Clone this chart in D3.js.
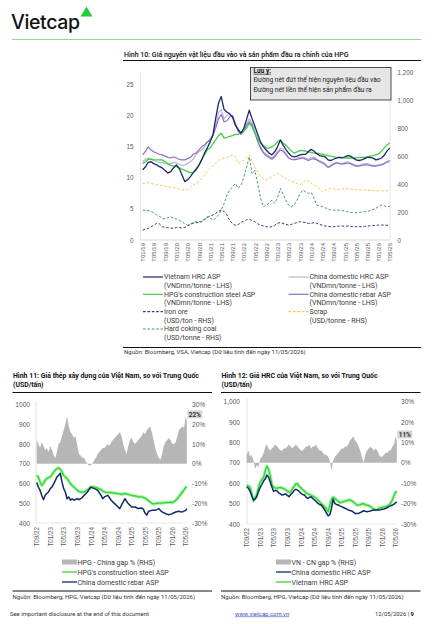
<!DOCTYPE html>
<html>
<head>
<meta charset="utf-8">
<script src="https://cdn.jsdelivr.net/npm/d3@7/dist/d3.min.js"></script>
<style>
  body { margin: 0; background: #fff; }
  svg { display: block; font-family: Roboto, 'Open Sans', sans-serif; }
  .tick text { fill: #595959; }
</style>
</head>
<body>
<svg id="page" width="442" height="624"></svg>
<script>
// Hình 10 - monthly, T01/19 .. T05/26
const vnHrc = [
  11.3, 11.8, 12.5, 12.6, 12.3, 12.1, 11.8, 11.6, 11.2, 10.8,
  11.0, 11.6, 12.1, 11.5, 10.5, 9.4, 9.7, 10.2, 10.8, 11.3,
  12.0, 12.9, 14.0, 14.8, 15.8, 17.0, 19.5, 22.0, 23.1, 21.0,
  20.6, 20.3, 19.8, 18.5, 17.8, 17.2, 18.0, 19.5, 20.9, 19.5,
  18.3, 17.0, 15.8, 15.0, 14.5, 14.0, 13.7, 14.2, 15.0, 16.1,
  15.3, 14.6, 14.0, 13.5, 13.4, 13.5, 13.7, 13.8, 13.8, 14.2,
  14.6, 14.3, 13.9, 13.6, 13.5, 13.4, 12.9, 12.8, 13.0, 13.2,
  13.3, 13.2, 13.4, 13.6, 13.5, 13.2, 12.9, 12.8, 12.9, 13.1,
  13.3, 13.3, 13.2, 12.9, 13.0, 13.2, 13.6, 14.3, 14.8
]
const cnHrc = [
  12.6, 13.0, 13.2, 13.0, 12.8, 12.6, 12.5, 12.5, 12.3, 12.2,
  12.3, 12.5, 12.4, 12.2, 12.0, 12.1, 12.3, 12.6, 13.0, 13.8,
  14.2, 14.5, 15.0, 15.8, 16.3, 17.0, 18.5, 20.5, 21.0, 19.5,
  20.0, 20.2, 19.8, 18.5, 17.5, 17.2, 17.8, 18.8, 19.5, 18.8,
  17.5, 16.0, 15.0, 14.2, 13.8, 13.5, 13.2, 13.6, 14.3, 14.8,
  14.6, 14.0, 13.2, 13.0, 13.0, 13.2, 13.3, 13.4, 13.2, 13.0,
  13.3, 13.3, 13.0, 12.8, 12.6, 12.3, 11.8, 12.0, 12.3, 12.5,
  12.4, 12.3, 12.5, 12.6, 12.4, 12.2, 12.0, 12.0, 12.2, 12.3,
  12.3, 12.2, 12.0, 12.0, 12.1, 12.2, 12.3, 12.5, 12.6
]
const hpgSteel = [
  12.3, 12.6, 13.0, 13.0, 12.9, 12.9, 12.9, 12.9, 12.6, 12.3,
  12.0, 11.9, 11.8, 11.6, 11.4, 11.2, 11.0, 10.8, 10.9, 11.5,
  12.1, 13.0, 13.7, 14.5, 14.8, 15.5, 16.1, 16.8, 17.2, 16.4,
  16.5, 16.7, 16.8, 17.0, 17.0, 17.2, 17.6, 18.0, 18.8, 18.2,
  17.2, 16.3, 15.6, 15.2, 14.8, 14.8, 15.0, 15.3, 15.8, 16.1,
  15.6, 15.3, 14.8, 14.3, 14.0, 14.2, 14.4, 14.4, 14.3, 14.2,
  14.1, 14.0, 14.0, 13.9, 13.8, 13.7, 13.6, 13.5, 13.4, 13.3,
  13.3, 13.3, 13.2, 13.2, 13.2, 13.2, 13.2, 13.3, 13.3, 13.3,
  13.4, 13.5, 13.6, 13.7, 13.9, 14.3, 14.8, 15.3, 15.6
]
const cnRebar = [
  13.7, 14.3, 15.0, 14.5, 14.2, 14.0, 13.8, 13.7, 13.5, 13.3,
  13.2, 13.4, 13.2, 13.0, 12.9, 12.9, 13.1, 13.3, 13.8, 14.0,
  14.5, 15.0, 15.3, 15.8, 16.0, 16.8, 18.0, 19.5, 20.2, 19.0,
  19.2, 19.8, 20.0, 18.8, 17.5, 17.0, 17.5, 18.5, 19.0, 18.5,
  17.2, 15.8, 14.8, 14.0, 13.6, 13.3, 13.0, 13.4, 14.0, 14.5,
  14.3, 13.8, 13.2, 13.0, 12.9, 13.0, 13.1, 13.2, 13.0, 12.8,
  13.0, 13.1, 12.9, 12.6, 12.4, 12.1, 11.7, 11.9, 12.2, 12.4,
  12.3, 12.2, 12.3, 12.4, 12.3, 12.1, 11.9, 11.9, 12.0, 12.1,
  12.1, 12.0, 11.9, 11.9, 12.0, 12.1, 12.3, 12.6, 12.8
]
const ironOre = [
  71, 78, 83, 95, 105, 119, 115, 95, 90, 88,
  85, 83, 90, 88, 87, 90, 100, 112, 119, 124,
  127, 131, 145, 160, 172, 179, 190, 205, 214, 205,
  180, 140, 115, 105, 110, 125, 135, 145, 148, 140,
  131, 115, 107, 100, 95, 92, 95, 105, 120, 124,
  119, 112, 107, 112, 119, 125, 131, 128, 125, 119,
  118, 125, 119, 112, 105, 100, 97, 95, 95, 97,
  100, 100, 98, 100, 98, 97, 95, 95, 95, 97,
  100, 102, 104, 105, 107, 107, 107, 105, 106
]
const scrap = [
  405, 408, 410, 405, 400, 395, 393, 390, 385, 381,
  378, 375, 370, 365, 360, 357, 362, 375, 393, 405,
  420, 440, 465, 490, 512, 530, 550, 571, 580, 583,
  590, 600, 607, 600, 548, 560, 571, 590, 607, 560,
  524, 480, 452, 440, 429, 440, 452, 465, 476, 465,
  452, 440, 429, 417, 417, 405, 393, 410, 429, 420,
  405, 395, 381, 365, 345, 355, 365, 369, 365, 362,
  362, 365, 369, 367, 365, 362, 360, 357, 357, 357,
  357, 355, 355, 352, 352, 352, 352, 352, 352
]
const cokingCoal = [
  214, 212, 210, 205, 195, 180, 170, 155, 150, 160,
  167, 155, 150, 140, 131, 115, 107, 115, 125, 131,
  131, 135, 150, 167, 155, 143, 155, 180, 214, 260,
  320, 357, 380, 405, 371, 390, 450, 524, 595, 476,
  500, 400, 300, 238, 250, 262, 286, 262, 300, 369,
  330, 286, 250, 238, 250, 286, 330, 357, 345, 333,
  340, 300, 250, 245, 238, 230, 225, 214, 214, 212,
  214, 210, 208, 202, 198, 195, 195, 198, 200, 202,
  205, 210, 218, 226, 240, 250, 245, 238, 240
]
const months10 = d3.range(vnHrc.length).map(i => new Date(2019, i, 1))

// Hình 11 - twice a month from T09/22, last point 11/05/2026
const gapHpg = [
  12, 10, 8, 11, 9, 7, 8, 6, 9, 7,
  4, 3, 6, 10, 11, 14, 17, 20, 24, 19,
  16, 15, 13, 14, 9, 5, 4, 3, 3, 1,
  0, -1, -0.5, 0, 2, 3, 5, 6, 7, 8,
  8, 9, 10, 9, 11, 12, 13, 14, 15, 16,
  14, 10, 7, 5, 9, 12, 13, 11, 10, 11,
  12, 13, 14, 16, 15, 17, 18, 19, 16, 12,
  8, 5, 3, 2, 5, 9, 11, 12, 13, 12,
  10, 10, 11, 14, 17, 18, 19, 18, 24, 22
]
const hpgSteelUsd = [
  641, 633, 608, 591, 600, 616, 625, 630, 633, 645,
  658, 668, 675, 679, 672, 660, 641, 632, 625, 612,
  600, 590, 582, 574, 566, 560, 557, 556, 557, 563,
  569, 576, 582, 583, 582, 580, 577, 573, 569, 562,
  557, 555, 554, 554, 554, 552, 552, 550, 549, 547,
  545, 547, 549, 547, 545, 542, 540, 538, 537, 535,
  532, 532, 532, 530, 526, 520, 513, 506, 500, 497,
  498, 500, 501, 501, 501, 502, 503, 503, 503, 506,
  503, 508, 515, 524, 533, 545, 557, 568, 580, 584
]
const cnRebarUsd = [
  605, 582, 566, 540, 518, 540, 549, 557, 574, 582,
  599, 616, 633, 641, 652, 608, 574, 557, 523, 532,
  515, 523, 515, 520, 523, 518, 523, 530, 540, 548,
  557, 570, 582, 578, 574, 570, 566, 553, 540, 523,
  532, 536, 540, 528, 515, 506, 498, 490, 481, 473,
  490, 506, 523, 510, 498, 490, 481, 481, 481, 477,
  473, 475, 476, 470, 450, 440, 459, 462, 464, 464,
  464, 468, 473, 464, 456, 452, 447, 444, 442, 445,
  447, 452, 456, 458, 459, 457, 456, 460, 464, 473
]

// Hình 12
const gapHrc = [
  4, 6, 3, 4, 1, -3, -1, -2, 2, 3,
  5, 8, 9, 7, 6, 7, 8, 9, 8, 7,
  6, 6, 7, 7, 8, 9, 8, 7, 8, 9,
  8, 7, 6, 6, 7, 8, 8, 9, 7, 8,
  8, 9, 7, 6, 6, 5, 4, 4, 3, 1,
  -4, 1, 3, 4, 5, 6, 7, 7, 8, 8,
  9, 11, 12, 13, 11, 10, 8, 6, 3, 0,
  4, 6, 7, 8, 7, 6, 7, 6, 4, 3,
  3, 4, 5, 5, 6, 6, 8, 9, 13, 11
]
const vnHrcUsd = [
  591, 587, 580, 548, 512, 530, 545, 580, 605, 618,
  630, 665, 684, 668, 635, 592, 580, 577, 575, 578,
  579, 576, 573, 568, 562, 556, 558, 572, 585, 597,
  598, 585, 578, 568, 562, 552, 548, 545, 541, 537,
  532, 526, 518, 509, 500, 493, 485, 475, 460, 490,
  520, 532, 526, 518, 511, 505, 507, 510, 512, 515,
  517, 518, 514, 508, 500, 493, 493, 495, 499, 500,
  495, 492, 490, 486, 480, 474, 470, 472, 477, 480,
  482, 484, 485, 489, 493, 502, 518, 540, 558, 556
]
const cnHrcUsd = [
  583, 575, 562, 540, 518, 522, 535, 560, 580, 595,
  612, 622, 640, 630, 605, 580, 560, 565, 562, 552,
  548, 542, 545, 548, 540, 534, 545, 552, 565, 570,
  567, 560, 550, 545, 542, 532, 526, 530, 534, 525,
  518, 510, 501, 496, 493, 482, 469, 455, 440, 445,
  475, 522, 500, 496, 493, 489, 485, 481, 477, 473,
  469, 466, 464, 458, 452, 452, 452, 456, 460, 465,
  463, 460, 462, 464, 467, 469, 469, 469, 469, 470,
  472, 474, 477, 481, 485, 489, 493, 498, 505, 509
]
const days = d3.range(89).map(i => new Date(2022, 8 + Math.floor(i / 2), i % 2 ? 16 : 1))
days.push(new Date(2026, 4, 11))

const usdTicks = [400, 500, 600, 700, 800, 900, 1000]
const pctTicks = [-30, -20, -10, 0, 10, 20, 30]

const svg = d3.select('#page')
const tLabel = d => 'T' + d3.timeFormat('%m/%y')(d)

function hline (x1, x2, y, color, w) {
  svg.append('line')
    .attr('x1', x1).attr('x2', x2).attr('y1', y).attr('y2', y)
    .attr('stroke', color || '#111')
    .attr('stroke-width', w || 1)
}
function vline (x, y1, y2) {
  svg.append('line')
    .attr('x1', x).attr('x2', x).attr('y1', y1).attr('y2', y2)
    .attr('stroke', '#dcdcdc')
    .attr('stroke-width', 0.8)
}
function label (x, y, str, size, opts) {
  opts = opts || {}
  return svg.append('text')
    .attr('x', x).attr('y', y)
    .attr('font-size', size)
    .attr('font-weight', opts.weight || 400)
    .attr('fill', opts.fill || '#222')
    .attr('text-anchor', opts.anchor || 'start')
    .text(str)
}

// header
svg.append('text')
  .attr('x', 11).attr('y', 29)
  .attr('font-family', 'Inter, sans-serif')
  .attr('font-size', 19.5)
  .attr('font-weight', 500)
  .attr('fill', '#111')
  .attr('textLength', 69)
  .text('Vietcap')
svg.append('path').attr('d', 'M80.5,16.5L86.5,6.5L92.5,16.5Z').attr('fill', '#22d03a')
hline(12, 421, 39.5, '#86d98f', 1.2)

// ---------- Hình 10 ----------
label(124, 56.5, 'Hình 10: Giá nguyên vật liệu đầu vào và sản phẩm đầu ra chính của HPG', 7, { weight: 500, fill: '#111' })
hline(123, 421, 60.5)

const x10 = d3.scaleTime().domain([months10[0], months10[months10.length - 1]]).range([142.7, 389.7])
const yL10 = d3.scaleLinear().domain([0, 27]).range([240, 72.3])
const yR10 = d3.scaleLinear().domain([0, 1200]).range([240, 72.3])

vline(140.5, 72, 240)
vline(390, 72, 240)
svg.append('line').attr('x1', 140.5).attr('x2', 390).attr('y1', 240).attr('y2', 240)
  .attr('stroke', '#d0d0d0').attr('stroke-width', 0.8)

const series10 = [
  { values: ironOre, scale: yR10, color: '#2c3f7c', dash: '2.6,1.8', width: 1 },
  { values: scrap, scale: yR10, color: '#f3c94f', dash: '2.6,1.8', width: 1 },
  { values: cokingCoal, scale: yR10, color: '#3f9c74', dash: '2.6,1.8', width: 1 },
  { values: cnHrc, scale: yL10, color: '#b4b7de', width: 1.2 },
  { values: cnRebar, scale: yL10, color: '#8f6dbb', width: 1.2 },
  { values: hpgSteel, scale: yL10, color: '#3fd13f', width: 1.3 },
  { values: vnHrc, scale: yL10, color: '#1d2668', width: 1.3 }
]
series10.forEach(s => {
  svg.append('path')
    .datum(s.values)
    .attr('d', d3.line().x((d, i) => x10(months10[i])).y(d => s.scale(d)))
    .attr('fill', 'none')
    .attr('stroke', s.color)
    .attr('stroke-width', s.width)
    .attr('stroke-dasharray', s.dash || null)
    .attr('stroke-linejoin', 'round')
})

svg.append('g')
  .attr('transform', 'translate(140,0)')
  .call(d3.axisLeft(yL10).tickValues([0, 5, 10, 15, 20, 25]).tickSize(0).tickPadding(6.5))
  .call(g => g.select('.domain').remove())
  .selectAll('text').attr('font-size', 6.3)
svg.append('g')
  .attr('transform', 'translate(390,0)')
  .call(d3.axisRight(yR10).tickValues(d3.range(0, 1201, 200)).tickFormat(d3.format(',')).tickSize(0).tickPadding(7.5))
  .call(g => g.select('.domain').remove())
  .selectAll('text').attr('font-size', 6.3)
svg.append('g')
  .attr('transform', 'translate(0,240)')
  .call(d3.axisBottom(x10).ticks(d3.timeMonth.every(4)).tickFormat(tLabel).tickSize(0))
  .call(g => g.select('.domain').remove())
  .selectAll('text')
  .attr('font-size', 6)
  .attr('transform', 'rotate(-90)')
  .attr('text-anchor', 'end')
  .attr('x', -3).attr('y', 0).attr('dy', '0.35em')

// note box
svg.append('rect')
  .attr('x', 250.5).attr('y', 67.5).attr('width', 140.5).attr('height', 32.5)
  .attr('fill', '#e6e6e6').attr('stroke', '#222').attr('stroke-width', 0.8)
label(253.5, 72.8, 'Lưu ý:', 6.4, { weight: 700, fill: '#111' }).attr('text-decoration', 'underline')
label(253.5, 82.3, 'Đường nét đứt thể hiện nguyên liệu đầu vào', 6.6, { fill: '#222' })
label(253.5, 92.3, 'Đường nét liền thể hiện sản phẩm đầu ra', 6.6, { fill: '#222' })

// legend
const legend10 = [
  { col: 0, row: 0, s: series10[6], name: 'Vietnam HRC ASP', unit: '(VNDmn/tonne - LHS)' },
  { col: 1, row: 0, s: series10[3], name: 'China domestic HRC ASP', unit: '(VNDmn/tonne - LHS)' },
  { col: 0, row: 1, s: series10[5], name: "HPG's construction steel ASP", unit: '(VNDmn/tonne - LHS)' },
  { col: 1, row: 1, s: series10[4], name: 'China domestic rebar ASP', unit: '(VNDmn/tonne - LHS)' },
  { col: 0, row: 2, s: series10[0], name: 'Iron ore', unit: '(USD/ton - RHS)' },
  { col: 1, row: 2, s: series10[1], name: 'Scrap', unit: '(USD/tonne - RHS)' },
  { col: 0, row: 3, s: series10[2], name: 'Hard coking coal', unit: '(USD/tonne - RHS)' }
]
const legX = [143, 288.5]
const legY = [277, 294.3, 311.6, 329]
legend10.forEach(d => {
  const lx = legX[d.col]
  const ly = legY[d.row]
  svg.append('line')
    .attr('x1', lx).attr('x2', lx + 20).attr('y1', ly).attr('y2', ly)
    .attr('stroke', d.s.color).attr('stroke-width', 1.2)
    .attr('stroke-dasharray', d.s.dash || null)
  label(lx + 21, ly + 2.4, d.name, 7, { fill: '#3a3a3a' })
  label(lx + 21, ly + 11, d.unit, 7, { fill: '#3a3a3a' })
})

hline(123, 421, 347.5)
label(124, 354.2, 'Nguồn: Bloomberg, VSA, Vietcap (Dữ liệu tính đến ngày 11/05/2026)', 6, { fill: '#333' })

// ---------- Hình 11 & 12 ----------
function gapChart (c) {
  const x = d3.scaleTime().domain([days[0], days[88]]).range([c.x0, c.x0 + 149])
  const yL = d3.scaleLinear().domain([400, 1000]).range([c.yBottom, c.yTop])
  const yR = d3.scaleLinear().domain([-30, 30]).range([c.yBottom, c.yTop])

  label(c.titleX, 377.8, c.title, 6.9, { weight: 700, fill: '#111' })
  label(c.titleX, 387.3, '(USD/tấn)', 6.9, { weight: 700, fill: '#111' })
  hline(c.titleX - 0.5, c.titleX + 199, 392.5)

  vline(c.frameX, c.yTop - 3, c.yBottom)
  svg.append('line').attr('x1', c.frameX).attr('x2', x(days[days.length - 1])).attr('y1', c.yBottom).attr('y2', c.yBottom)
    .attr('stroke', '#e2e2e2').attr('stroke-width', 0.8)

  svg.append('path')
    .datum(c.gap)
    .attr('d', d3.area().x((d, i) => x(days[i])).y0(yR(0)).y1(d => yR(d)))
    .attr('fill', '#b6b6b6')

  const line = d3.line().x((d, i) => x(days[i])).y(d => yL(d))
  svg.append('path').datum(c.green).attr('d', line)
    .attr('fill', 'none').attr('stroke', '#a6f2a6').attr('stroke-width', 3.2).attr('stroke-linejoin', 'round')
  svg.append('path').datum(c.green).attr('d', line)
    .attr('fill', 'none').attr('stroke', '#2fd82f').attr('stroke-width', 1.3).attr('stroke-linejoin', 'round')
  svg.append('path').datum(c.navy).attr('d', line)
    .attr('fill', 'none').attr('stroke', '#0c2a6c').attr('stroke-width', 1.5).attr('stroke-linejoin', 'round')

  svg.append('g')
    .attr('transform', `translate(${c.frameX},0)`)
    .call(d3.axisLeft(yL).tickValues(usdTicks).tickFormat(c.usdFormat).tickSize(0).tickPadding(c.leftPad))
    .call(g => g.select('.domain').remove())
    .selectAll('text').attr('font-size', 6.6)
  svg.append('g')
    .attr('transform', `translate(${c.rightX},0)`)
    .call(d3.axisRight(yR).tickValues(pctTicks).tickFormat(d => d + '%').tickSize(0).tickPadding(0))
    .call(g => g.select('.domain').remove())
    .selectAll('text').attr('font-size', 6.6)
  svg.append('g')
    .attr('transform', `translate(0,${c.yBottom})`)
    .call(d3.axisBottom(x).ticks(d3.timeMonth.every(4)).tickFormat(tLabel).tickSize(0))
    .call(g => g.select('.domain').remove())
    .selectAll('text')
    .attr('font-size', 6.3)
    .attr('transform', 'rotate(-90)')
    .attr('text-anchor', 'end')
    .attr('x', -4).attr('y', 0).attr('dy', '0.35em')

  // last value tag
  const last = c.gap[c.gap.length - 1]
  const lx = x(days[days.length - 1]) + 0.5
  const ly = yR(last) - 6
  svg.append('rect').attr('x', lx).attr('y', ly - 4).attr('width', 15).attr('height', 8).attr('fill', '#d6d6d6')
  label(lx + 7.5, ly + 2.3, last + '%', 6.4, { weight: 700, fill: '#333', anchor: 'middle' })

  // legend
  c.legend.forEach((d, i) => {
    const y = 562 + i * 10
    if (d.type === 'area') {
      svg.append('rect').attr('x', c.legX).attr('y', y - 2.5).attr('width', 15).attr('height', 5).attr('fill', '#b6b6b6')
    } else {
      svg.append('line').attr('x1', c.legX).attr('x2', c.legX + 15).attr('y1', y).attr('y2', y)
        .attr('stroke', d.color).attr('stroke-width', 1.3)
    }
    label(c.legX + 15.5, y + 2.5, d.name, 7, { fill: '#3a3a3a' })
  })

  hline(c.titleX - 0.5, c.titleX + 199, 591)
  label(c.titleX - 0.5, 598.5, 'Nguồn: Bloomberg, HPG, Vietcap (Dữ liệu tính đến ngày 11/05/2026)', 6, { fill: '#333' })
}

gapChart({
  title: 'Hình 11: Giá thép xây dựng của Việt Nam, so với Trung Quốc',
  titleX: 13,
  x0: 36.7,
  frameX: 36,
  yTop: 404.5,
  yBottom: 523,
  leftPad: 6,
  rightX: 192,
  usdFormat: d3.format('d'),
  gap: gapHpg,
  green: hpgSteelUsd,
  navy: cnRebarUsd,
  legX: 62,
  legend: [
    { type: 'area', name: 'HPG - China gap % (RHS)' },
    { type: 'line', color: '#2fd82f', name: "HPG's construction steel ASP" },
    { type: 'line', color: '#0c2a6c', name: 'China domestic rebar ASP' }
  ]
})

gapChart({
  title: 'Hình 12: Giá HRC của Việt Nam, so với Trung Quốc',
  titleX: 221.5,
  x0: 246.7,
  frameX: 247,
  yTop: 401.7,
  yBottom: 524,
  leftPad: 7,
  rightX: 401,
  usdFormat: d3.format(','),
  gap: gapHrc,
  green: vnHrcUsd,
  navy: cnHrcUsd,
  legX: 276,
  legend: [
    { type: 'area', name: 'VN - CN gap % (RHS)' },
    { type: 'line', color: '#0c2a6c', name: 'China domestic HRC ASP' },
    { type: 'line', color: '#2fd82f', name: 'Vietnam HRC ASP' }
  ]
})

// footer
label(10, 615.5, 'See important disclosure at the end of this document', 5.9, { fill: '#333' })
label(235, 615.5, 'www.vietcap.com.vn', 5.9, { fill: '#3a56c8' }).attr('text-decoration', 'underline')
const foot = svg.append('text').attr('x', 414).attr('y', 615.5).attr('font-size', 5.9).attr('fill', '#333').attr('text-anchor', 'end')
foot.append('tspan').text('12/05/2026 | ')
foot.append('tspan').attr('font-weight', 700).attr('fill', '#111').text('9')
</script>
</body>
</html>
